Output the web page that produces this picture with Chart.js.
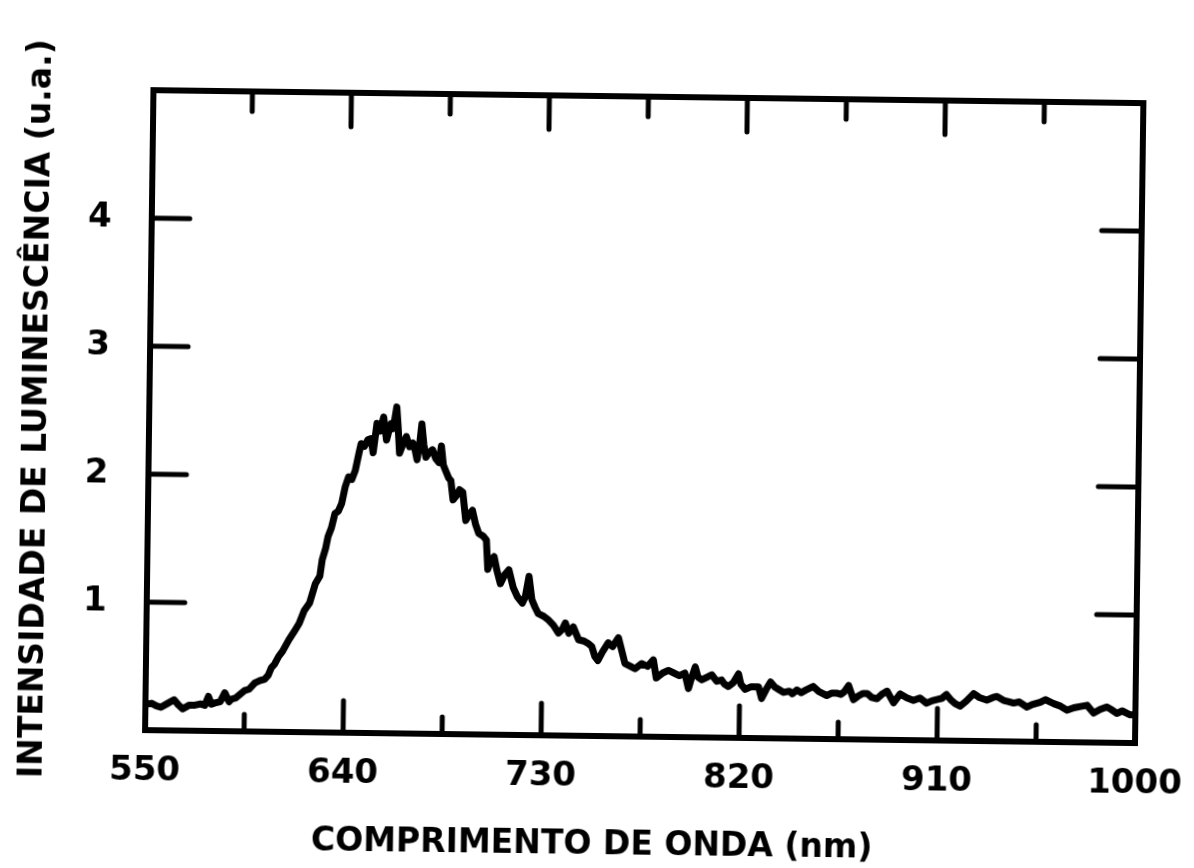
<!DOCTYPE html>
<html>
<head>
<meta charset="utf-8">
<script src="https://cdn.jsdelivr.net/npm/chart.js@4/dist/chart.umd.min.js"></script>
<style>
  html, body { margin: 0; padding: 0; background: #fff; overflow: hidden; }
  #wrap { width: 1194px; height: 868px; transform: rotate(0.75deg); transform-origin: 50% 50%; }
</style>
</head>
<body>
<div id="wrap"><canvas id="spectrum" width="1194" height="868"></canvas></div>
<script>
// values
const wavelength = [
    550, 552.8, 555, 557, 560, 563, 565, 567, 570, 572.5,
    575, 577, 578.6, 580, 581.6, 584, 586, 588, 589, 591,
    593, 595, 597, 599.6, 602, 604, 605.6, 607, 608.5, 610.3,
    612, 614.8, 617, 619.4, 621.6, 624, 626.5, 628.5, 629.5, 631,
    632, 633.5, 635, 636.5, 638, 639.5, 641, 642.5, 644, 645.5,
    646.5, 648, 649.5, 651, 652, 653.6, 655, 656.6, 658, 659,
    660, 661, 662.5, 663.2, 664, 665.5, 667, 668.5, 670, 671,
    672, 673, 674, 675, 676, 677.5, 679, 680.5, 682, 683,
    684, 685, 686.5, 687.5, 688.6, 690, 691.5, 693, 694.5, 696,
    697.5, 699, 700.5, 702.5, 704, 704.8, 706, 707.6, 709, 710.6,
    712.5, 714.4, 716.5, 718.4, 720.7, 722, 723.6, 725, 726.5, 728,
    730.5, 732.8, 735, 737.3, 739, 740.4, 742, 744, 746.5, 749,
    751, 752.5, 754, 755.4, 757.5, 760, 762, 764.6, 766, 767.7,
    770, 772.3, 775.3, 778, 780.6, 782, 785, 787.5, 790, 792.5,
    795, 796.7, 798, 799.7, 801, 802.7, 805, 807.2, 809.5, 811.7,
    813, 814.8, 817, 819.4, 820.5, 822.5, 825, 828.6, 830, 832,
    834, 836, 838, 840, 842.6, 844, 846, 848, 850, 853.4,
    856, 859.6, 862, 864, 866, 867.5, 869.5, 871.8, 874, 876,
    878, 880, 882.5, 885, 887, 890, 893, 896, 899, 902,
    905, 907.5, 909.6, 912, 914, 916, 918, 920.3, 923, 926.4,
    929, 932.4, 935, 937, 940, 942.5, 944.6, 947, 950.7, 953,
    956.8, 959, 962.8, 966, 968.9, 972, 975, 978, 981, 984,
    987, 989, 991.6, 994, 997.6, 1000
];
const intensity = [
    0.20, 0.21, 0.19, 0.18, 0.21, 0.24, 0.20, 0.17, 0.20, 0.20,
    0.21, 0.20, 0.27, 0.21, 0.22, 0.23, 0.30, 0.23, 0.25, 0.26,
    0.29, 0.32, 0.33, 0.38, 0.40, 0.41, 0.44, 0.50, 0.53, 0.59,
    0.63, 0.72, 0.78, 0.85, 0.95, 1.01, 1.16, 1.22, 1.35, 1.44,
    1.53, 1.60, 1.71, 1.73, 1.79, 1.92, 2.00, 1.98, 2.05, 2.18,
    2.26, 2.24, 2.29, 2.30, 2.19, 2.42, 2.36, 2.47, 2.29, 2.36,
    2.42, 2.38, 2.55, 2.40, 2.19, 2.26, 2.32, 2.24, 2.27, 2.22,
    2.14, 2.25, 2.42, 2.26, 2.16, 2.20, 2.22, 2.15, 2.12, 2.25,
    2.10, 2.06, 2.00, 1.98, 1.83, 1.86, 1.91, 1.89, 1.67, 1.72,
    1.75, 1.64, 1.57, 1.55, 1.52, 1.29, 1.36, 1.39, 1.28, 1.18,
    1.25, 1.29, 1.15, 1.08, 1.03, 1.08, 1.24, 1.06, 1.00, 0.95,
    0.93, 0.90, 0.86, 0.80, 0.83, 0.88, 0.80, 0.85, 0.75, 0.74,
    0.72, 0.70, 0.62, 0.59, 0.66, 0.73, 0.70, 0.77, 0.68, 0.57,
    0.55, 0.53, 0.57, 0.55, 0.60, 0.46, 0.50, 0.52, 0.50, 0.48,
    0.50, 0.38, 0.46, 0.55, 0.47, 0.45, 0.47, 0.49, 0.44, 0.45,
    0.42, 0.40, 0.43, 0.50, 0.42, 0.38, 0.40, 0.40, 0.31, 0.38,
    0.44, 0.40, 0.38, 0.36, 0.37, 0.35, 0.38, 0.36, 0.38, 0.41,
    0.37, 0.34, 0.36, 0.36, 0.35, 0.37, 0.42, 0.31, 0.34, 0.36,
    0.36, 0.33, 0.32, 0.36, 0.38, 0.29, 0.36, 0.33, 0.31, 0.33,
    0.29, 0.31, 0.32, 0.33, 0.36, 0.32, 0.29, 0.27, 0.31, 0.37,
    0.34, 0.32, 0.34, 0.35, 0.32, 0.31, 0.30, 0.31, 0.27, 0.29,
    0.31, 0.33, 0.30, 0.28, 0.25, 0.27, 0.28, 0.29, 0.23, 0.26,
    0.28, 0.26, 0.23, 0.25, 0.22, 0.22
];

// axis ticks
const xLabelTicks = [550, 640, 730, 820, 910, 1000];
const xMinorTicks = [595, 685, 775, 865, 955];
const yLabelTicks = [1, 2, 3, 4];

const xTitle = 'COMPRIMENTO DE ONDA (nm)';
const yTitle = 'INTENSIDADE DE LUMINESCÊNCIA (u.a.)';

Chart.defaults.font.family = "'DejaVu Sans', sans-serif";
Chart.defaults.color = '#000';

const frameWidth = 6;

// tick marks point into the plot, like the original figure
const inwardTicks = {
    id: 'inwardTicks',
    afterDraw(chart) {
        const ctx = chart.ctx;
        const area = chart.chartArea;
        const xs = chart.scales.x;
        const ys = chart.scales.y;
        ctx.save();
        ctx.strokeStyle = '#000';
        ctx.lineWidth = 5;
        ctx.lineCap = 'round';
        ctx.beginPath();
        xLabelTicks.slice(1, -1).forEach(v => {
            const px = xs.getPixelForValue(v);
            ctx.moveTo(px, area.bottom); ctx.lineTo(px, area.bottom - 32);
            ctx.moveTo(px, area.top); ctx.lineTo(px, area.top + 34);
        });
        xMinorTicks.forEach(v => {
            const px = xs.getPixelForValue(v);
            ctx.moveTo(px, area.bottom); ctx.lineTo(px, area.bottom - 17);
            ctx.moveTo(px, area.top); ctx.lineTo(px, area.top + 20);
        });
        yLabelTicks.forEach(v => {
            const py = ys.getPixelForValue(v);
            ctx.moveTo(area.left, py); ctx.lineTo(area.left + 38, py);
            ctx.moveTo(area.right, py); ctx.lineTo(area.right - 40, py);
        });
        ctx.stroke();
        ctx.restore();
    }
};

const ctx = document.getElementById('spectrum').getContext('2d');
const spectrumChart = new Chart(ctx, {
    type: 'line',
    data: {
        datasets: [{
            data: wavelength.map((w, i) => ({ x: w, y: intensity[i] })),
            borderColor: '#000',
            borderWidth: 7,
            borderJoinStyle: 'round',
            borderCapStyle: 'round',
            pointRadius: 0,
            tension: 0,
            fill: false,
            xAxisID: 'x',
            yAxisID: 'y'
        }]
    },
    options: {
        responsive: false,
        animation: false,
        devicePixelRatio: 1,
        layout: { padding: 0 },
        plugins: {
            legend: { display: false },
            tooltip: { enabled: false },
            title: {
                display: true,
                position: 'bottom',
                text: xTitle,
                font: { size: 33, weight: 'bold' },
                padding: { top: 0, bottom: 3 }
            }
        },
        scales: {
            x: {
                type: 'linear',
                position: 'bottom',
                min: 550,
                max: 1000,
                afterBuildTicks: s => { s.ticks = xLabelTicks.map(v => ({ value: v })); },
                afterFit: s => { s.height = 89.4; s.paddingLeft = 0; s.paddingRight = 0; },
                grid: { display: false, drawTicks: false, lineWidth: frameWidth },
                border: { display: true, width: frameWidth, color: '#000' },
                ticks: {
                    autoSkip: false,
                    maxRotation: 0,
                    padding: 21,
                    font: { size: 34, weight: 'bold' },
                    callback: v => String(v)
                }
            },
            xTop: {
                type: 'linear',
                position: 'top',
                min: 550,
                max: 1000,
                afterFit: s => { s.height = 96; },
                grid: { display: false, drawTicks: false, lineWidth: frameWidth },
                border: { display: true, width: frameWidth, color: '#000' },
                ticks: { display: false }
            },
            y: {
                type: 'linear',
                position: 'left',
                min: 0,
                max: 5,
                afterBuildTicks: s => { s.ticks = yLabelTicks.map(v => ({ value: v })); },
                afterFit: s => { s.width = 149; },
                grid: { display: false, drawTicks: false, lineWidth: frameWidth },
                border: { display: true, width: frameWidth, color: '#000' },
                ticks: {
                    padding: 40,
                    font: { size: 34, weight: 'bold' },
                    callback: v => String(v)
                },
                title: {
                    display: true,
                    text: yTitle,
                    font: { size: 33, weight: 'bold' },
                    padding: { top: 18, bottom: 0 }
                }
            },
            yRight: {
                type: 'linear',
                position: 'right',
                min: 0,
                max: 5,
                afterFit: s => { s.width = 55; },
                grid: { display: false, drawTicks: false, lineWidth: frameWidth },
                border: { display: true, width: frameWidth, color: '#000' },
                ticks: { display: false }
            }
        }
    },
    plugins: [inwardTicks]
});
</script>
</body>
</html>
